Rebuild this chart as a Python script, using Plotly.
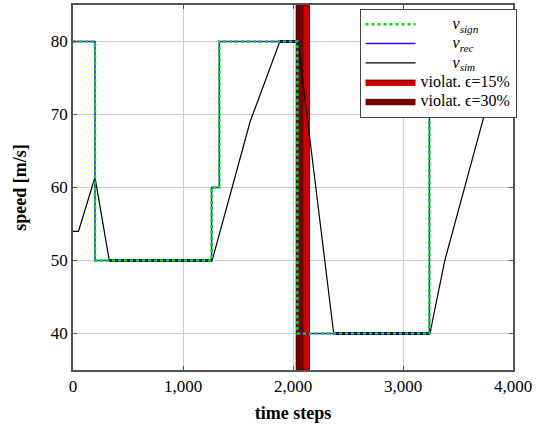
import plotly.graph_objects as go

# ---- data ----
sign_t = [0, 200, 200, 1260, 1260, 1330, 1330, 2040, 2040, 3240, 3240, 4000]
sign_v = [80, 80, 50, 50, 60, 60, 80, 80, 40, 40, 70, 70]
rec_t = [0, 200, 200, 1260, 1260, 1330, 1330, 2040, 2040, 3240, 3240, 4000]
rec_v = [80, 80, 50, 50, 60, 60, 80, 80, 40, 40, 70, 70]
sim_t = [0, 50, 200, 330, 1265, 1610, 1880, 2045, 2370, 3245, 3380, 3740, 4000]
sim_v = [54, 54, 61.4, 50, 50, 69, 80, 80, 40, 40, 50, 70, 70]
# flat plateaus of the simulated speed (indices into sim arrays)
plateaus = [(3, 4), (6, 7), (8, 9), (11, 12)]
viol15 = (2030, 2150)
viol30 = (2030, 2090)
y_range = (35, 85)
x_ticks = [0, 1000, 2000, 3000, 4000]
y_ticks = [40, 50, 60, 70, 80]

FONT = "Liberation Serif"
fig = go.Figure()

def lab(txt, pad=0):
    return '<span style="font-size:16px">' + "&nbsp;" * pad + txt + "</span>"

def band(x0, x1):
    return [x0, x0, x1, x1, x0], [y_range[0], y_range[1], y_range[1], y_range[0], y_range[0]]

bx, by = band(*viol15)
fig.add_trace(go.Scatter(x=bx, y=by, fill="toself", mode="lines", fillcolor="#cc0000",
                         line=dict(width=0.8, color="#550000"), name=lab("violat. \u03f5=15%"),
                         legendrank=4))
bx, by = band(*viol30)
fig.add_trace(go.Scatter(x=bx, y=by, fill="toself", mode="lines", fillcolor="#7a0000",
                         line=dict(width=0.8, color="#440000"), name=lab("violat. \u03f5=30%"),
                         legendrank=5))

fig.add_trace(go.Scatter(x=sim_t, y=sim_v, mode="lines", line=dict(color="black", width=1.2),
                         name=lab("<i>v<sub>sim</sub></i>", 8), legendrank=3))
for a, b in plateaus:
    fig.add_trace(go.Scatter(x=sim_t[a:b + 1], y=sim_v[a:b + 1], mode="lines",
                             line=dict(color="black", width=3), showlegend=False,
                             hoverinfo="skip"))
fig.add_trace(go.Scatter(x=rec_t, y=rec_v, mode="lines", line=dict(color="#1a1aff", width=1.5),
                         name=lab("<i>v<sub>rec</sub></i>", 8), legendrank=2))
fig.add_trace(go.Scatter(x=sign_t, y=sign_v, mode="lines",
                         line=dict(color="#00e000", width=2.5, dash="dot"),
                         name=lab("<i>v<sub>sign</sub></i>", 8), legendrank=1))

fig.update_layout(
    width=538, height=431,
    margin=dict(l=73, r=25, t=5, b=61, autoexpand=False),
    plot_bgcolor="white", paper_bgcolor="white",
    font=dict(family=FONT, size=17, color="black"),
    legend=dict(x=1.008, y=0.99, xanchor="right", yanchor="top",
                bgcolor="white", bordercolor="#444", borderwidth=1,
                font=dict(family=FONT, size=12.5), tracegroupgap=0, itemwidth=50),
    showlegend=True,
)
fig.update_xaxes(range=[0, 4000], tickvals=x_ticks, tickformat=",d", automargin=False,
                 showgrid=True, gridcolor="#cccccc", gridwidth=1,
                 showline=True, linecolor="#555", linewidth=1.5, mirror="ticks",
                 ticks="inside", ticklen=4, tickcolor="#555",
                 title=dict(text="<b>time steps</b>", font=dict(family=FONT, size=18), standoff=11),
                 zeroline=False)
fig.update_yaxes(range=list(y_range), tickvals=y_ticks, automargin=False,
                 showgrid=True, gridcolor="#cccccc", gridwidth=1,
                 showline=True, linecolor="#555", linewidth=1.5, mirror="ticks",
                 ticks="inside", ticklen=4, tickcolor="#555",
                 title=dict(text="<b>speed [m/s]</b>", font=dict(family=FONT, size=18), standoff=20),
                 zeroline=False)

fig.write_html("out.html", config={"displayModeBar": False},
               post_script="document.body.style.margin='0';")
